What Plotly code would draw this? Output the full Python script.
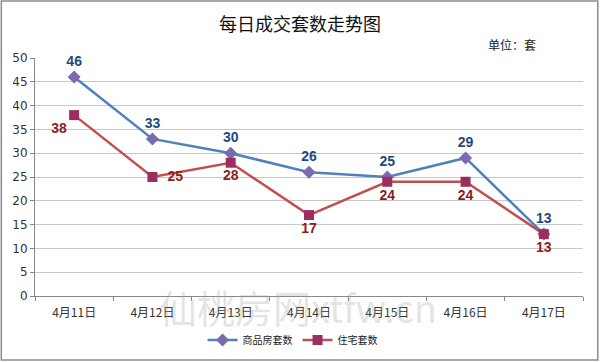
import plotly.graph_objects as go

categories = ["4月11日", "4月12日", "4月13日", "4月14日", "4月15日", "4月16日", "4月17日"]
commercial = [46, 33, 30, 26, 25, 29, 13]
residential = [38, 25, 28, 17, 24, 24, 13]
y_ticks = [0, 5, 10, 15, 20, 25, 30, 35, 40, 45, 50]
res_label_pos = ["bottom left", "middle right", "bottom center", "bottom center",
                 "bottom center", "bottom center", "bottom center"]
res_label_pad = ["", "  ", "", "", "", "", ""]

font_cjk = "Noto Sans CJK SC, Noto Sans, sans-serif"

fig = go.Figure()
fig.add_trace(go.Scatter(
    x=categories, y=commercial, name="商品房套数",
    mode="lines+markers+text",
    line=dict(color="#4F81BD", width=2.5),
    marker=dict(symbol="diamond", size=10, color="#7A6AAE"),
    text=[str(v) for v in commercial], textposition="top center",
    textfont=dict(family="Arial, Liberation Sans, sans-serif", size=14, color="#1F497D", weight="bold"),
    cliponaxis=False,
))
fig.add_trace(go.Scatter(
    x=categories, y=residential, name="住宅套数",
    mode="lines+markers+text",
    line=dict(color="#C0504D", width=2.5),
    marker=dict(symbol="square", size=10, color="#9B2D5F"),
    text=[p + str(v) for p, v in zip(res_label_pad, residential)], textposition=res_label_pos,
    textfont=dict(family="Arial, Liberation Sans, sans-serif", size=14, color="#8B1F1F", weight="bold"),
    cliponaxis=False,
))

fig.update_layout(
    width=600, height=362,
    margin=dict(l=35, r=17, t=58, b=66, autoexpand=False),
    paper_bgcolor="white", plot_bgcolor="white",
    font=dict(family=font_cjk, size=11, color="#333333"),
    title=dict(text="每日成交套数走势图", x=0.5, xanchor="center", xref="container",
               y=0.931, yref="container", yanchor="middle",
               font=dict(family=font_cjk, size=18, color="#111111")),
    showlegend=True,
    legend=dict(orientation="h", x=0.47, xanchor="center", y=-0.185, yanchor="middle",
                font=dict(family=font_cjk, size=10, color="#222222"),
                itemwidth=30, tracegroupgap=0),
    xaxis=dict(
        type="category", range=[-0.5, 6.5], automargin=False,
        showgrid=False, showline=True, linecolor="#888888", linewidth=1,
        ticks="outside", tickson="boundaries", ticklen=4, tickcolor="#888888",
        ticklabelstandoff=6,
        tickfont=dict(family=font_cjk, size=12, color="#333333"),
    ),
    yaxis=dict(
        range=[0, 50], tickvals=y_ticks, automargin=False,
        showgrid=True, gridcolor="#C8C8C8", gridwidth=1,
        showline=True, linecolor="#888888", linewidth=1,
        ticks="outside", ticklen=4, tickcolor="#888888",
        tickfont=dict(family="DejaVu Sans, sans-serif", size=12, color="#333333"),
        zeroline=False,
    ),
    shapes=[dict(type="rect", xref="paper", yref="paper",
                 x0=-0.0615, x1=1.027, y0=-0.269, y1=1.239,
                 line=dict(color="#8C8C8C", width=1.5), fillcolor="rgba(0,0,0,0)", layer="below")],
    annotations=[
        dict(text="单位：套", xref="paper", yref="paper", x=0.87, y=1.055,
             xanchor="center", yanchor="middle", showarrow=False,
             font=dict(family=font_cjk, size=12, color="#222222")),
        dict(text="仙桃房网xtfw.cn", xref="paper", yref="paper", x=0.48, y=-0.045,
             xanchor="center", yanchor="middle", showarrow=False,
             font=dict(family=font_cjk, size=38, color="rgba(160,160,160,0.3)")),
    ],
)

fig.write_html("out.html", config={"displayModeBar": False},
               post_script="document.body.style.margin='0';")
